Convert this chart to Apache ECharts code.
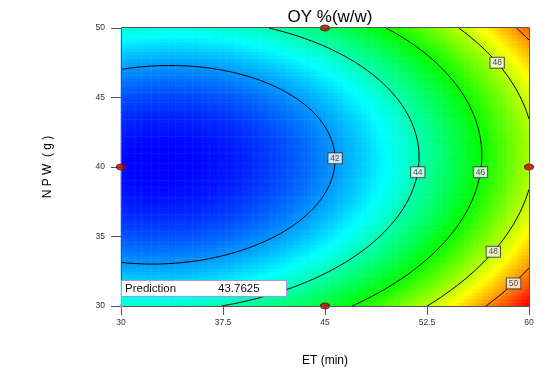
<!DOCTYPE html>
<html>
<head>
<meta charset="utf-8">
<script src="https://cdn.jsdelivr.net/npm/echarts@6/dist/echarts.min.js"></script>
<style>
html, body { margin: 0; padding: 0; background: #fff; }
#chart { width: 549px; height: 371px; }
</style>
</head>
<body>
<div id="chart"></div>
<script>
// OY %(w/w) response surface over ET (min) and NPW (g)
const etRange = [30, 60]
const npwRange = [30, 50]
const etTicks = [30, 37.5, 45, 52.5, 60]
const npwTicks = [30, 35, 40, 45, 50]

// quadratic model in coded units (A = ET, B = NPW)
const modelTerms = ['intercept', 'A', 'B', 'A^2', 'B^2', 'AB']
const modelCoefs = [41.82, 3.70, -0.33, 2.30, 3.28, -0.28]

const contourLevels = [42, 44, 46, 48, 50]
// contour label spots: level and the NPW where the box sits
const labelLevels = [42, 44, 46, 48, 48, 50]
const labelNpw = [40.6, 39.6, 39.6, 47.5, 33.9, 31.6]

// design points (red dots)
const designEt = [30, 45, 45, 60]
const designNpw = [40, 50, 30, 40]

const predictionEt = 30
const predictionNpw = 30
const predictionText = '43.7625'

const FONT = '"Liberation Sans", Arial, sans-serif'

const etMid = (etRange[0] + etRange[1]) / 2, etHalf = (etRange[1] - etRange[0]) / 2
const npwMid = (npwRange[0] + npwRange[1]) / 2, npwHalf = (npwRange[1] - npwRange[0]) / 2

const predict = (et, npw) => {
  const a = (et - etMid) / etHalf
  const b = (npw - npwMid) / npwHalf
  const [c0, cA, cB, cAA, cBB, cAB] = modelCoefs
  return c0 + cA * a + cB * b + cAA * a * a + cBB * b * b + cAB * a * b
}

// colour cells
const NX = 120, NY = 82
const heatCols = [], heatRows = [], heatData = []
for (let i = 0; i < NX; i++) heatCols.push(String(i))
for (let j = 0; j < NY; j++) heatRows.push(String(j))
let vMin = Infinity, vMax = -Infinity
for (let j = 0; j < NY; j++) {
  const npw = npwRange[0] + (npwRange[1] - npwRange[0]) * (j + 0.5) / NY
  for (let i = 0; i < NX; i++) {
    const et = etRange[0] + (etRange[1] - etRange[0]) * (i + 0.5) / NX
    const v = predict(et, npw)
    vMin = Math.min(vMin, v)
    vMax = Math.max(vMax, v)
    heatData.push([i, j, v])
  }
}

// marching squares for the contour lines
const CX = 241, CY = 161
const traceContour = (level) => {
  const xs = [], ys = []
  for (let i = 0; i < CX; i++) xs.push(etRange[0] + (etRange[1] - etRange[0]) * i / (CX - 1))
  for (let j = 0; j < CY; j++) ys.push(npwRange[0] + (npwRange[1] - npwRange[0]) * j / (CY - 1))
  const g = ys.map(y => xs.map(x => predict(x, y) - level))
  const pts = {}, adj = {}
  const edgePt = (key, x1, y1, v1, x2, y2, v2) => {
    if (!(key in pts)) {
      const t = v1 / (v1 - v2)
      pts[key] = [x1 + (x2 - x1) * t, y1 + (y2 - y1) * t]
    }
    return key
  }
  const link = (k1, k2) => {
    (adj[k1] = adj[k1] || []).push(k2);
    (adj[k2] = adj[k2] || []).push(k1)
  }
  for (let j = 0; j < CY - 1; j++) {
    for (let i = 0; i < CX - 1; i++) {
      const v00 = g[j][i], v10 = g[j][i + 1], v01 = g[j + 1][i], v11 = g[j + 1][i + 1]
      const keys = []
      if ((v00 > 0) !== (v10 > 0)) keys.push(edgePt('h' + i + '_' + j, xs[i], ys[j], v00, xs[i + 1], ys[j], v10))
      if ((v10 > 0) !== (v11 > 0)) keys.push(edgePt('v' + (i + 1) + '_' + j, xs[i + 1], ys[j], v10, xs[i + 1], ys[j + 1], v11))
      if ((v01 > 0) !== (v11 > 0)) keys.push(edgePt('h' + i + '_' + (j + 1), xs[i], ys[j + 1], v01, xs[i + 1], ys[j + 1], v11))
      if ((v00 > 0) !== (v01 > 0)) keys.push(edgePt('v' + i + '_' + j, xs[i], ys[j], v00, xs[i], ys[j + 1], v01))
      if (keys.length === 2) link(keys[0], keys[1])
      else if (keys.length === 4) { link(keys[0], keys[1]); link(keys[2], keys[3]) }
    }
  }
  const used = new Set(), lines = []
  const walk = (start) => {
    const line = [pts[start]]
    used.add(start)
    let cur = start
    while (true) {
      const next = (adj[cur] || []).find(k => !used.has(k))
      if (!next) break
      used.add(next)
      line.push(pts[next])
      cur = next
    }
    return line
  }
  Object.keys(adj).filter(k => adj[k].length === 1).forEach(k => { if (!used.has(k)) lines.push(walk(k)) })
  Object.keys(adj).forEach(k => {
    if (!used.has(k)) { const l = walk(k); l.push(l[0]); lines.push(l) }
  })
  return lines
}

const contourLines = {}
contourLevels.forEach(lv => { contourLines[lv] = traceContour(lv) })

const contourSeries = []
contourLevels.forEach(lv => {
  contourLines[lv].forEach(line => {
    contourSeries.push({
      type: 'line',
      xAxisIndex: 1,
      yAxisIndex: 1,
      data: line,
      symbol: 'none',
      silent: true,
      animation: false,
      z: 3,
      lineStyle: { color: '#000', width: 1 },
    })
  })
})

// put each label on its contour at the point nearest the wanted NPW
const labelData = labelLevels.map((lv, k) => {
  let best = null, bestD = Infinity
  contourLines[lv].forEach(line => line.forEach(p => {
    const d = Math.abs(p[1] - labelNpw[k])
    if (d < bestD) { bestD = d; best = p }
  }))
  return { value: best, level: lv }
})

const chart = echarts.init(document.getElementById('chart'))

chart.setOption({
  animation: false,
  backgroundColor: '#fff',
  title: {
    text: 'OY %(w/w)',
    left: 325,
    top: 4,
    textAlign: 'center',
    textStyle: { fontFamily: FONT, fontSize: 17, fontWeight: 'normal', color: '#000' },
  },
  grid: {
    left: 121,
    top: 28,
    right: 20,
    bottom: 65,
    containLabel: false,
    outerBoundsMode: 'none',
  },
  visualMap: {
    show: false,
    type: 'continuous',
    seriesIndex: 0,
    dimension: 2,
    min: vMin,
    max: vMax,
    inRange: { color: ['#0000ff', '#00ffff', '#00ff00', '#ffff00', '#ff0000'] },
  },
  xAxis: [
    { type: 'category', data: heatCols, show: false, position: 'top' },
    {
      type: 'value',
      position: 'bottom',
      min: etRange[0],
      max: etRange[1],
      interval: etTicks[1] - etTicks[0],
      name: 'ET (min)',
      nameLocation: 'middle',
      nameGap: 49,
      nameTextStyle: { fontFamily: FONT, fontSize: 12, color: '#000' },
      axisLine: { show: false },
      axisTick: { show: true, length: 9, lineStyle: { color: '#555' } },
      axisLabel: { margin: 12, fontFamily: FONT, fontSize: 8.5, color: '#333' },
      splitLine: { show: false },
    },
  ],
  yAxis: [
    { type: 'category', data: heatRows, show: false, position: 'right' },
    {
      type: 'value',
      position: 'left',
      min: npwRange[0],
      max: npwRange[1],
      interval: npwTicks[1] - npwTicks[0],
      name: 'N P W  ( g )',
      nameLocation: 'middle',
      nameGap: 67,
      nameTextStyle: { fontFamily: FONT, fontSize: 12, color: '#000' },
      axisLine: { show: false },
      axisTick: { show: true, length: 10, lineStyle: { color: '#555' } },
      axisLabel: { margin: 16, fontFamily: FONT, fontSize: 8.5, color: '#333' },
      splitLine: { show: false },
    },
  ],
  series: [
    {
      type: 'heatmap',
      xAxisIndex: 0,
      yAxisIndex: 0,
      data: heatData,
      progressive: 0,
      silent: true,
      itemStyle: { borderWidth: 0 },
    },
    ...contourSeries,
    {
      type: 'scatter',
      xAxisIndex: 1,
      yAxisIndex: 1,
      data: labelData,
      symbolSize: 1,
      itemStyle: { color: 'rgba(0,0,0,0)' },
      silent: true,
      z: 4,
      label: {
        show: true,
        position: 'inside',
        formatter: p => String(p.data.level),
        fontFamily: FONT,
        fontSize: 8.5,
        lineHeight: 9,
        color: '#222',
        backgroundColor: '#fff',
        borderColor: '#333',
        borderWidth: 1,
        padding: [1, 2, 0, 2],
      },
    },
    {
      type: 'scatter',
      xAxisIndex: 1,
      yAxisIndex: 1,
      data: designEt.map((x, k) => [x, designNpw[k]]),
      symbol: 'circle',
      symbolSize: [9, 6],
      clip: false,
      silent: true,
      z: 20,
      itemStyle: { color: '#c00000', borderColor: '#6a0000', borderWidth: 1 },
    },
  ],
})

// plot frame and the prediction flag
const p0 = chart.convertToPixel({ xAxisIndex: 1, yAxisIndex: 1 }, [etRange[0], npwRange[0]])
const p1 = chart.convertToPixel({ xAxisIndex: 1, yAxisIndex: 1 }, [etRange[1], npwRange[1]])
const f = chart.convertToPixel({ xAxisIndex: 1, yAxisIndex: 1 }, [predictionEt, predictionNpw])
const boxTop = f[1] - 26

chart.setOption({
  graphic: [
    {
      type: 'rect',
      z: 50,
      silent: true,
      shape: { x: p0[0] + 0.5, y: p1[1] - 0.5, width: p1[0] - p0[0], height: p0[1] - p1[1] + 1 },
      style: { fill: 'none', stroke: '#555', lineWidth: 1 },
    },
    {
      type: 'rect',
      z: 60,
      silent: true,
      shape: { x: f[0] + 0.5, y: boxTop + 0.5, width: 165, height: 16 },
      style: { fill: '#fff', stroke: '#9a9ae6', lineWidth: 1 },
    },
    {
      type: 'line',
      z: 60,
      silent: true,
      shape: { x1: f[0] + 0.5, y1: boxTop + 16, x2: f[0] + 0.5, y2: f[1] },
      style: { stroke: '#9a9ae6', lineWidth: 1 },
    },
    {
      type: 'rect',
      z: 61,
      silent: true,
      shape: { x: f[0] - 1.5, y: f[1] - 1.5, width: 3, height: 3 },
      style: { fill: '#9a9ae6' },
    },
    {
      type: 'text',
      z: 62,
      silent: true,
      x: f[0] + 4,
      y: boxTop + 8.5,
      style: { text: 'Prediction', font: '11.5px ' + FONT, fill: '#111', verticalAlign: 'middle' },
    },
    {
      type: 'text',
      z: 62,
      silent: true,
      x: f[0] + 97,
      y: boxTop + 8.5,
      style: { text: predictionText, font: '11.5px ' + FONT, fill: '#111', verticalAlign: 'middle' },
    },
  ],
})
</script>
</body>
</html>
